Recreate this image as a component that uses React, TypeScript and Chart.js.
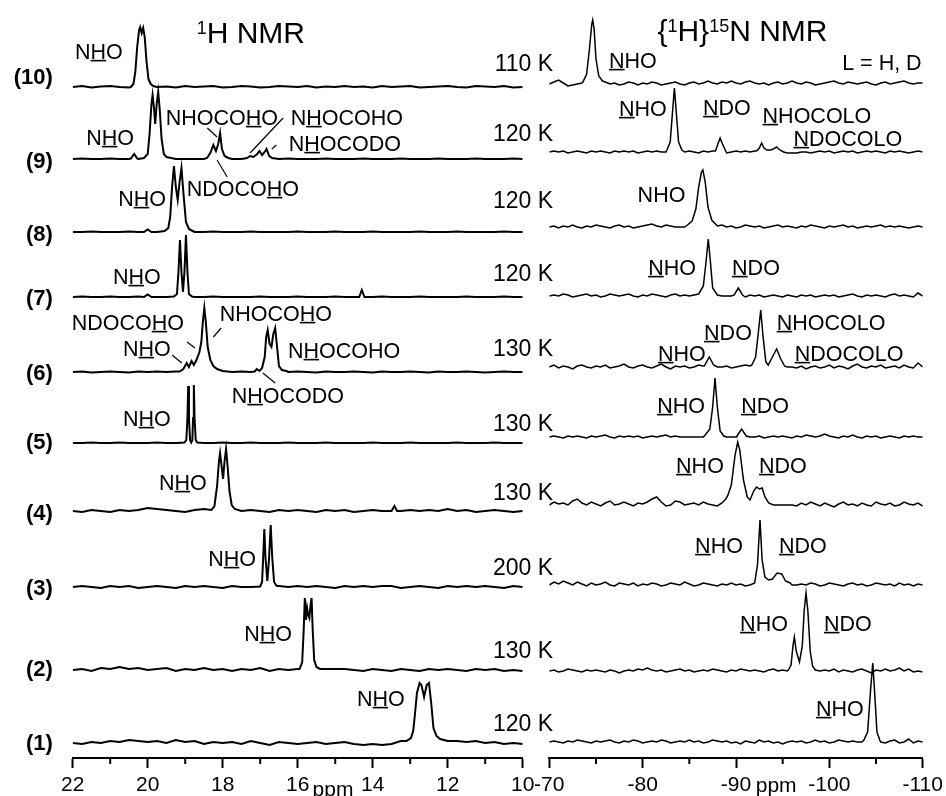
import React, { useEffect, useRef } from "react";
import { Chart, registerables } from "chart.js";
Chart.register(...registerables);

const FONT = '"Liberation Sans", Arial, Helvetica, sans-serif';
const CANVAS_W = 1000;

// ---------- axes ----------
const H_TICKS = [22, 20, 18, 16, 14, 12, 10];
const H_MINOR = [21, 19, 17, 15, 13, 11];
const N_TICKS = [-70, -80, -90, -100, -110];
const N_MINOR = [-75, -85, -95, -105];

// ---------- samples ----------
const SAMPLES = ["(1)", "(2)", "(3)", "(4)", "(5)", "(6)", "(7)", "(8)", "(9)", "(10)"];
const TEMPS = ["120 K", "130 K", "200 K", "130 K", "130 K", "130 K", "120 K", "120 K", "120 K", "110 K"];

// vertical stacking offsets (intensity units above the axis)
const H_OFFSETS = [15, 88, 171, 247, 315, 386, 461, 526, 599, 671];
const N_OFFSETS = [16, 87, 173, 253, 321, 391, 462, 531, 606, 674];

// ---------- 1H baselines: sampled every 0.25 ppm from 22 to 10 ----------
const H_BASE_START = 22;
const H_BASE_STEP = -0.25;
const HB1 = [0,-1,1,0,2,1,3,2,1, 2,0,3,1,2,-1,1,0, 1,-1,2,0,-2,1,0,-1, 0,1,-1,0,1,-1,-2,-1, -2,-1,2,3,3,3,3,3, 2,1,2,0,1,-1,0,-1];
const HB2 = [0,1,-1,2,1,3,1,2,0, 1,2,-1,1,0,2,0,1, -1,1,0,2,-1,1,0,1, 3,3,1,1,1,0,-1,1, 0,-1,1,0,-1,1,0,1, 0,-1,1,0,1,-1,0,-1];
const HB3 = [0,1,0,-1,1,0,1,-1,0, 1,0,-1,1,0,1,0,-1, 1,0,0,1,1,1,0,1, 0,1,0,-1,1,0,1,0, 1,1,-1,0,1,0,-1,1, 0,1,0,1,0,-1,1,0];
const HB4 = [0,-1,1,0,-1,1,0,1,3, 2,1,0,-1,1,2,0,0, -1,0,1,0,-1,1,0,1, 0,-1,1,0,1,-1,0,1, 0,2,0,1,0,1,0,2, 0,1,-1,0,1,0,-1,0];
const HB5 = [0,0,0.5,0,0,0.5,0,0,0, 0.5,0,0,0,0,0,0,0.5, 0,0,0.5,0,0,0,0.5,0, 0,0,0.5,0,0,0,0,0.5, 0,0,0,0.5,0,0,0,0, 0.5,0,0,0,0.5,0,0,0];
const HB6 = [0,0.5,-0.5,0,0.5,0,-0.5,0.5,0, 0.5,0,0.5,0,0,0,0.5,0, 0,0.5,0,0,0,0.5,0,0.5, 0,-0.5,0.5,0,0,0.5,0,-0.5, 0.5,0,0,0.5,0,-0.5,0.5,0, 0,0.5,0,-0.5,0,0.5,0,0];
const HB7 = [0,0.5,0,0,0.5,0,0,0.5,0, 0,0,0.5,0,0,0,0.5,0, 0,0,0,0.5,0,0,0,0.5, 0,0,0,0.5,0,0,0,0, 0.5,0,0,0,0.5,0,0,0, 0,0.5,0,0,0,0.5,0,0];
const HB8 = [0,0,0.5,0,0,0,0.5,0,0, 0,0.5,0,0,0,0,0.5,0, 0,0,0.5,0,0,0,0,0.5, 0,0,0,0.5,0,0,0,0.5, 0,0,0,0,0.5,0,0,0, 0.5,0,0,0,0,0.5,0,0];
const HB9 = [0,0.5,0,0,0.5,0,0,0,0.5, 0,0,0,0,0,0,0,0, 0,0,0,0,0,0,0.5,0, 0,0,0.5,0,0,0,0.5,0, 0,0,0.5,0,0,0,0.5,0, 0,0,0.5,0,0,0,0.5,0];
const HB10 = [0,1,-0.5,0.5,1,0,-0.5,1,0.5, 0,0.5,-0.5,1,0,0.5,1,-0.5, 0,1,0.5,-0.5,0,1,0.5,0, 1,-0.5,0.5,0,1,0,0.5,-0.5, 1,0,0.5,1,-0.5,0,0.5,1, 0,-0.5,1,0.5,0,1,-0.5,0];

// ---------- 1H peaks: [ppm, intensity] ----------
const HP1 = [[[13.1,2],[12.98,5],[12.92,12],[12.87,30],[12.82,50],[12.75,60],[12.7,58],[12.63,46],[12.56,58],[12.5,60],[12.44,40],[12.38,15],[12.3,7],[12.2,4],[12.0,2]]];
const HP2 = [[[15.95,1],[15.88,8],[15.84,40],[15.81,72],[15.78,50],[15.75,62],[15.72,55],[15.69,52],[15.66,64],[15.63,72],[15.6,40],[15.56,10],[15.5,3],[15.4,1]]];
const HP3 = [[[17.0,0.5],[16.95,5],[16.92,30],[16.89,58],[16.86,30],[16.81,6],[16.77,25],[16.72,62],[16.68,30],[16.63,5],[16.56,1]]];
const HP4 = [[[18.3,1],[18.22,5],[18.15,25],[18.1,50],[18.07,58],[18.03,45],[17.99,32],[17.95,50],[17.91,62],[17.87,45],[17.82,20],[17.76,6],[17.68,2]],[[13.5,0],[13.42,5],[13.35,0]]];
const HP5 = [[[19.02,0.5],[18.97,3],[18.94,25],[18.92,57],[18.9,25],[18.87,3],[18.84,0.5],[18.81,3],[18.79,25],[18.77,58],[18.75,25],[18.72,3],[18.68,0.5]]];
const HP6 = [[[19.15,0.5],[19.05,3],[18.96,9],[18.9,5],[18.83,11],[18.77,7],[18.7,12],[18.62,20],[18.57,30],[18.53,50],[18.49,64],[18.45,50],[18.4,25],[18.33,12],[18.25,6],[18.15,3],[18.0,1]],[[17.15,0.5],[17.09,3],[17.02,1],[16.95,4],[16.88,15],[16.84,35],[16.8,42],[16.75,28],[16.7,25],[16.65,38],[16.6,44],[16.55,25],[16.5,6],[16.42,2],[16.3,1]]];
const HP7 = [[[20.1,0],[20.0,2.5],[19.9,0]],[[19.3,0.5],[19.22,3],[19.18,25],[19.14,57],[19.1,25],[19.06,5],[19.02,25],[18.98,62],[18.94,25],[18.9,3],[18.82,0.5]],[[14.36,0],[14.29,7],[14.22,0]]];
const HP8 = [[[20.1,0],[20.0,2.5],[19.9,0]],[[19.55,1],[19.45,4],[19.4,15],[19.35,45],[19.3,66],[19.25,45],[19.2,32],[19.15,50],[19.1,64],[19.05,40],[18.98,10],[18.9,3],[18.8,1]]];
const HP9 = [[[20.45,0.5],[20.36,5],[20.28,0.5]],[[20.1,1],[20.0,5],[19.95,25],[19.9,55],[19.87,64],[19.83,50],[19.8,35],[19.76,55],[19.72,67],[19.68,50],[19.63,20],[19.57,5],[19.5,2]],[[18.42,1],[18.33,6],[18.25,14],[18.18,8],[18.12,15],[18.07,26],[18.02,10],[17.95,3],[17.85,1]],[[17.35,1],[17.27,3],[17.18,2],[17.08,5],[17.02,8],[16.95,4],[16.88,7],[16.83,10],[16.76,3],[16.68,1]]];
const HP10 = [[[20.45,0],[20.38,3],[20.33,15],[20.28,40],[20.23,57],[20.2,60],[20.16,54],[20.12,59],[20.08,50],[20.03,25],[19.98,8],[19.92,3],[19.85,1]]];

const H_BASES = [HB1, HB2, HB3, HB4, HB5, HB6, HB7, HB8, HB9, HB10];
const H_PEAKS = [HP1, HP2, HP3, HP4, HP5, HP6, HP7, HP8, HP9, HP10];

// ---------- 15N baselines: sampled every 0.5 ppm from -70 to -110 ----------
const N_BASE_START = -70;
const N_BASE_STEP = -0.5;
const NB1 = [0,1,0,-1,1,0,2,1,0,-1, 1,0,1,2,0,-1,1,0,2,1, -1,0,1,0,2,1,-1,0,1,0, 2,0,1,-1,0,2,1,0,1,-1, 0,-2,1,0,-1,2,0,1,-1,0, -2,0,1,0,1,-1,0,2,0,1, -1,0,2,1,0,1,0,0,0,0, 0,0,-1,1,2,-1,0,3,-1,1, 0];
const NB2 = [0,1,-1,0,2,1,0,-1,1,0, 1,0,-1,1,0,-2,0,1,0,2, 1,3,1,0,1,-1,0,1,2,0, 1,-1,0,1,0,2,1,0,-1,1, 0,2,1,0,1,0,-1,1,2,0, 1,0,0,0,0,0,0,0,0,1, 0,2,-1,1,0,-1,1,2,0,-2, 1,0,2,0,1,3,0,2,-1,0, -1];
const NB3 = [0,3,1,4,2,0,3,1,-1,2, 0,1,3,0,-1,2,1,0,2,-1, 1,0,2,1,-1,0,2,1,0,3, 1,-1,0,2,1,0,-1,1,0,2, 0,1,-1,0,1,2,0,1,0,0, 0,0,0,0,1,0,2,1,-1,0, 2,1,0,-1,1,2,0,1,-1,0, 2,1,0,1,-1,2,0,1,-1,1, 0];
const NB4 = [0,3,1,2,0,4,6,2,0,3, 1,-1,2,4,0,1,3,1,-1,2, 1,3,6,8,3,-1,0,4,3,0, 1,2,0,3,1,0,-1,2,0,0, 0,0,0,0,0,0,0,0,0,0, 0,0,0,-1,2,0,3,1,-1,2, 0,-2,1,3,0,1,-1,2,0,-1, 3,1,0,2,-1,0,3,1,0,2, -1];
const NB5 = [0,1,0,-1,1,0,1,0,-1,1, 0,1,2,0,-1,1,0,1,0,1, -1,0,1,0,1,2,0,1,0,0, 0,0,0,0,0,0,0,0,0,0, 0,0,0,0,0,1,-1,0,1,0, 1,0,-1,1,0,2,1,0,1,3, 1,0,-1,1,0,2,0,-1,1,0, 1,-1,0,1,0,-1,1,0,1,0, 0];
const NB6 = [0,2,-1,1,0,-2,1,2,0,-1, 1,0,2,-1,0,1,3,0,-1,1, 2,0,-1,1,3,0,-2,1,0,1, -1,0,2,1,0,0,0,0,1,-1, 0,1,2,1,0,0,0,0,0,0, 0,0,0,-1,1,-2,0,1,-1,0, 2,-1,1,0,-2,1,3,0,-1,1, 0,2,-1,0,1,-1,2,0,-1,4, 0];
const NB7 = [0,1,0,2,1,-1,0,1,2,0, 1,-1,0,2,1,0,1,2,0,-1, 1,0,2,1,0,-1,1,2,0,1, 0,1,0,0,0,0,0,0,0,0, 0,0,-1,1,0,1,-1,0,1,0, -1,1,0,-1,1,0,1,-1,0,1, 0,1,-1,0,1,2,0,-1,1,0, 1,0,-1,1,2,0,1,0,-1,3, 0];
const NB8 = [0,1,-1,1,0,2,0,-1,1,0, 2,1,0,-1,1,2,0,1,-1,0, 1,2,3,1,0,2,1,0,0,0, 0,0,0,0,0,0,1,2,0,1, -1,0,2,1,0,1,-1,0,1,2, 0,1,0,-1,1,0,2,1,0,-1, 1,0,1,2,0,1,-1,0,1,0, 1,2,0,1,0,1,0,-1,0,1, 0];
const NB9 = [0,1,0,1,-1,0,1,0,-1,1, 0,1,0,-1,1,0,1,0,1,-1, 0,1,0,1,0,0,0,0,0,0, 1,0,-1,1,0,1,0,1,-1,0, 1,0,1,0,1,0,-1,1,0,1, 0,-1,-1,-1,0,0,-1,0,1,0, 1,-1,0,1,0,1,-1,0,1,0, 1,0,-1,1,0,1,0,-1,0,1, 0];
const NB10 = [0,2,4,1,-2,-1,0,1,1,1, 1,1,2,0,1,-1,0,2,1,-1, 1,0,2,1,-1,0,1,2,0,-1, 1,2,0,1,3,1,0,2,1,3, 1,0,2,3,1,0,1,-1,1,2, 0,1,3,1,0,2,1,-1,0,1, 2,3,1,0,2,1,0,1,2,0, -1,1,2,0,1,2,3,1,0,1, 1];

// ---------- 15N peaks: [ppm, intensity] ----------
const NP1 = [[[-103.7,2],[-104.1,10],[-104.4,50],[-104.65,79],[-104.85,50],[-105.1,10],[-105.4,2]]];
const NP2 = [[[-95.6,1],[-95.9,6],[-96.1,25],[-96.25,34],[-96.45,20],[-96.8,9],[-97.1,25],[-97.3,60],[-97.5,78],[-97.7,60],[-97.95,20],[-98.2,5],[-98.5,1]]];
const NP3 = [[[-92.0,2],[-92.3,20],[-92.57,65],[-92.8,25],[-93.1,8],[-93.5,5],[-93.9,6],[-94.4,12],[-94.9,11],[-95.3,4],[-95.8,2]]];
const NP4 = [[[-88.5,2],[-88.9,6],[-89.1,9],[-89.5,20],[-89.9,50],[-90.18,63],[-90.4,55],[-90.8,25],[-91.2,8],[-91.5,5],[-91.9,14],[-92.2,18],[-92.5,16],[-92.8,17],[-93.1,8],[-93.5,2]]];
const NP5 = [[[-86.7,2],[-87.2,8],[-87.5,30],[-87.75,59],[-88.0,30],[-88.3,6],[-88.7,1]],[[-90.1,1],[-90.6,8],[-91.1,1]]];
const NP6 = [[[-86.6,1],[-87.14,10],[-87.6,2]],[[-91.7,2],[-92.1,10],[-92.4,35],[-92.65,57],[-92.9,30],[-93.2,5],[-93.45,2],[-93.9,10],[-94.35,18],[-94.8,8],[-95.2,1]]];
const NP7 = [[[-86.0,2],[-86.5,10],[-86.8,35],[-87.03,57],[-87.25,35],[-87.5,8],[-88.0,1]],[[-89.8,1],[-90.25,8],[-90.7,1]]];
const NP8 = [[[-84.8,2],[-85.3,6],[-85.7,18],[-86.0,40],[-86.3,55],[-86.45,57],[-86.7,45],[-87.0,20],[-87.4,7],[-87.8,3]]];
const NP9 = [[[-82.6,2],[-82.95,10],[-83.2,40],[-83.4,64],[-83.6,40],[-83.85,10],[-84.2,2]],[[-87.8,1],[-88.1,9],[-88.3,14],[-88.55,8],[-88.9,1]],[[-92.2,1],[-92.5,4],[-92.75,9],[-93.0,4],[-93.3,2],[-93.7,2],[-94.0,3],[-94.35,5],[-94.7,2],[-95.1,0]]];
const NP10 = [[[-73.6,2],[-74.0,10],[-74.3,35],[-74.55,60],[-74.65,64],[-74.8,55],[-75.0,25],[-75.3,8],[-75.7,3]]];

const N_BASES = [NB1, NB2, NB3, NB4, NB5, NB6, NB7, NB8, NB9, NB10];
const N_PEAKS = [NP1, NP2, NP3, NP4, NP5, NP6, NP7, NP8, NP9, NP10];

// ---------- annotation layout (data coordinates: ppm, height above axis) ----------
// "_X_" = underlined, "^x^" = superscript
const LABEL_HEIGHTS = [16, 90, 171, 246, 317, 386, 461, 525, 598, 682];
const TEMP_HEIGHTS = [35, 108, 191, 266, 335, 410, 485, 558, 625, 695];

const H_NOTES = [
  { t: "N_H_O", x: 21.3, y: 707 },
  { t: "N_H_O", x: 21.0, y: 621 },
  { t: "NHOCO_H_O", x: 18.02, y: 641 },
  { t: "N_H_OCOHO", x: 14.69, y: 641 },
  { t: "N_H_OCODO", x: 14.74, y: 615 },
  { t: "NDOCO_H_O", x: 17.46, y: 570 },
  { t: "N_H_O", x: 20.15, y: 560 },
  { t: "N_H_O", x: 20.29, y: 482 },
  { t: "NDOCO_H_O", x: 20.53, y: 436 },
  { t: "N_H_O", x: 20.02, y: 410 },
  { t: "NHOCO_H_O", x: 16.58, y: 445 },
  { t: "N_H_OCOHO", x: 14.76, y: 408 },
  { t: "N_H_OCODO", x: 16.26, y: 363 },
  { t: "N_H_O", x: 20.02, y: 340 },
  { t: "N_H_O", x: 19.06, y: 276 },
  { t: "N_H_O", x: 17.75, y: 200 },
  { t: "N_H_O", x: 16.79, y: 125 },
  { t: "N_H_O", x: 13.78, y: 60 },
];
const H_LEADERS = [
  [18.41, 630, 18.15, 621],
  [16.39, 640, 17.27, 605],
  [16.69, 609, 16.57, 613],
  [18.15, 598, 17.88, 581],
  [19.35, 403, 19.09, 395],
  [18.95, 416, 18.74, 410],
  [18.25, 421, 18.04, 430],
  [16.93, 385, 16.6, 375],
];
const N_NOTES = [
  { t: "_N_HO", x: -78.96, y: 698 },
  { t: "L = H, D", x: -105.63, y: 696 },
  { t: "_N_HO", x: -80.03, y: 650 },
  { t: "_N_DO", x: -89.03, y: 651 },
  { t: "_N_HOCOLO", x: -98.67, y: 643 },
  { t: "_N_DOCOLO", x: -101.98, y: 620 },
  { t: "NHO", x: -82.02, y: 564 },
  { t: "_N_HO", x: -83.15, y: 491 },
  { t: "_N_DO", x: -92.14, y: 491 },
  { t: "_N_DO", x: -89.14, y: 426 },
  { t: "_N_HO", x: -84.21, y: 405 },
  { t: "_N_HOCOLO", x: -100.18, y: 436 },
  { t: "_N_DOCOLO", x: -102.11, y: 405 },
  { t: "_N_HO", x: -84.11, y: 353 },
  { t: "_N_DO", x: -93.11, y: 353 },
  { t: "_N_HO", x: -86.14, y: 293 },
  { t: "_N_DO", x: -95.03, y: 293 },
  { t: "_N_HO", x: -88.18, y: 213 },
  { t: "_N_DO", x: -97.17, y: 213 },
  { t: "_N_HO", x: -93.0, y: 135 },
  { t: "_N_DO", x: -101.98, y: 135 },
  { t: "_N_HO", x: -101.12, y: 50 },
];

type Pt = { x: number; y: number };

function buildSeries(start: number, step: number, base: number[], groups: number[][][], offset: number): Pt[] {
  const ranges = groups.map((g) => {
    const xs = g.map((p) => p[0]);
    return [Math.min(...xs), Math.max(...xs)];
  });
  const pts: Pt[] = [];
  base.forEach((v, i) => {
    const x = start + i * step;
    const inside = ranges.some(([a, b]) => x >= a && x <= b);
    if (!inside) pts.push({ x, y: offset + v });
  });
  groups.forEach((g) => g.forEach(([x, h]) => pts.push({ x, y: offset + h })));
  pts.sort((a, b) => b.x - a.x);
  return pts;
}

function drawRich(ctx: CanvasRenderingContext2D, str: string, x: number, y: number, size: number, weight: string, align: string) {
  const segs: { t: string; u: boolean; sup: boolean }[] = [];
  let u = false, sup = false, cur = "";
  for (const ch of str) {
    if (ch === "_" || ch === "^") {
      if (cur) segs.push({ t: cur, u, sup });
      cur = "";
      if (ch === "_") u = !u; else sup = !sup;
    } else cur += ch;
  }
  if (cur) segs.push({ t: cur, u, sup });
  const fontOf = (s: { sup: boolean }) => `${weight} ${s.sup ? size * 0.6 : size}px ${FONT}`;
  const widths = segs.map((s) => { ctx.font = fontOf(s); return ctx.measureText(s.t).width; });
  const total = widths.reduce((a, b) => a + b, 0);
  let cx = align === "right" ? x - total : align === "left" ? x : x - total / 2;
  const baseline = y + size * 0.35;
  ctx.textBaseline = "alphabetic";
  ctx.textAlign = "left";
  segs.forEach((s, i) => {
    ctx.font = fontOf(s);
    const by = s.sup ? baseline - size * 0.3 : baseline;
    ctx.fillText(s.t, cx, by);
    if (s.u) ctx.fillRect(cx, baseline + 1.3, widths[i], 1.6);
    cx += widths[i];
  });
}

type Note = { t: string; x: number; y: number; size?: number; bold?: boolean; align?: string };

function overlayPlugin(id: string, minor: number[], notes: Note[], leaders: number[][]) {
  return {
    id,
    afterDraw(chart: any) {
      const ctx: CanvasRenderingContext2D = chart.ctx;
      const xs = chart.scales.x, ys = chart.scales.y;
      const X = (v: number) => xs.getPixelForValue(v);
      const Y = (v: number) => ys.getPixelForValue(v);
      ctx.save();
      ctx.strokeStyle = "#000";
      ctx.lineWidth = 2;
      const axisY = xs.top;
      minor.forEach((v) => {
        const px = X(v);
        ctx.beginPath();
        ctx.moveTo(px, axisY);
        ctx.lineTo(px, axisY + 6);
        ctx.stroke();
      });
      ctx.lineWidth = 1.2;
      leaders.forEach(([x1, y1, x2, y2]) => {
        ctx.beginPath();
        ctx.moveTo(X(x1), Y(y1));
        ctx.lineTo(X(x2), Y(y2));
        ctx.stroke();
      });
      ctx.fillStyle = "#000";
      notes.forEach((n) => drawRich(ctx, n.t, X(n.x), Y(n.y), n.size || 21.5, n.bold ? "bold" : "normal", n.align || "center"));
      ctx.restore();
    },
  };
}

function makeConfig(opts: {
  min: number; max: number; ticks: number[]; minor: number[]; padLeft: number; padRight: number;
  series: Pt[][]; width: number; notes: Note[]; leaders: number[][]; id: string;
}) {
  return {
    type: "line" as const,
    data: {
      datasets: opts.series.map((d) => ({
        data: d,
        borderColor: "#000",
        borderWidth: opts.width,
        pointRadius: 0,
        fill: false,
        tension: 0,
      })),
    },
    options: {
      animation: false as const,
      responsive: false,
      events: [],
      layout: { padding: { left: opts.padLeft, right: opts.padRight, top: 0, bottom: 0 } },
      plugins: { legend: { display: false }, tooltip: { enabled: false }, title: { display: false } },
      scales: {
        x: {
          type: "linear" as const,
          reverse: true,
          min: opts.min,
          max: opts.max,
          afterBuildTicks: (s: any) => { s.ticks = opts.ticks.map((v) => ({ value: v })); },
          afterFit: (s: any) => { s.height = 38; },
          grid: { drawOnChartArea: false, drawTicks: true, tickLength: 10, tickColor: "#000", tickWidth: 2 },
          border: { display: true, color: "#000", width: 2 },
          ticks: { color: "#000", font: { family: FONT, size: 21 }, padding: 5, autoSkip: false, maxRotation: 0, callback: (v: any) => String(v) },
        },
        y: { display: false, min: 0, max: 758 },
      },
    },
    plugins: [overlayPlugin(opts.id, opts.minor, opts.notes, opts.leaders)],
  };
}

export default function App() {
  const leftRef = useRef<HTMLCanvasElement>(null);
  const rightRef = useRef<HTMLCanvasElement>(null);

  useEffect(() => {
    document.body.style.margin = "0";
    const hSeries = H_BASES.map((b, i) => buildSeries(H_BASE_START, H_BASE_STEP, b, H_PEAKS[i], H_OFFSETS[i]));
    const nSeries = N_BASES.map((b, i) => buildSeries(N_BASE_START, N_BASE_STEP, b, N_PEAKS[i], N_OFFSETS[i]));

    const hNotes: Note[] = [
      { t: "^1^H NMR", x: 17.25, y: 726, size: 30 },
      ...SAMPLES.map((s, i) => ({ t: s, x: 22.53, y: LABEL_HEIGHTS[i], size: 22, bold: true, align: "right" })),
      ...TEMPS.map((s, i) => ({ t: s, x: 9.19, y: TEMP_HEIGHTS[i], size: 23, align: "right" })),
      ...H_NOTES,
      { t: "ppm", x: 15.06, y: -31, size: 21 },
    ];
    const nNotes: Note[] = [
      { t: "{^1^H}^15^N NMR", x: -90.69, y: 728, size: 30 },
      ...N_NOTES,
      { t: "ppm", x: -94.3, y: -27, size: 21 },
    ];

    const c1 = new Chart(leftRef.current as HTMLCanvasElement, makeConfig({
      min: 10, max: 22, ticks: H_TICKS, minor: H_MINOR, padLeft: 72.7, padRight: CANVAS_W - 522.7,
      series: hSeries, width: 2, notes: hNotes, leaders: H_LEADERS, id: "hOverlay",
    }) as any);
    const c2 = new Chart(rightRef.current as HTMLCanvasElement, makeConfig({
      min: -110, max: -70, ticks: N_TICKS, minor: N_MINOR, padLeft: 549.3, padRight: CANVAS_W - 922.7,
      series: nSeries, width: 1.5, notes: nNotes, leaders: [], id: "nOverlay",
    }) as any);
    return () => { c1.destroy(); c2.destroy(); };
  }, []);

  return (
    <div style={{ position: "relative", width: 946, height: 796, overflow: "hidden", background: "#fff" }}>
      <canvas ref={leftRef} width={CANVAS_W} height={796} style={{ position: "absolute", left: 0, top: 0 }} />
      <canvas ref={rightRef} width={CANVAS_W} height={796} style={{ position: "absolute", left: 0, top: 0 }} />
    </div>
  );
}
